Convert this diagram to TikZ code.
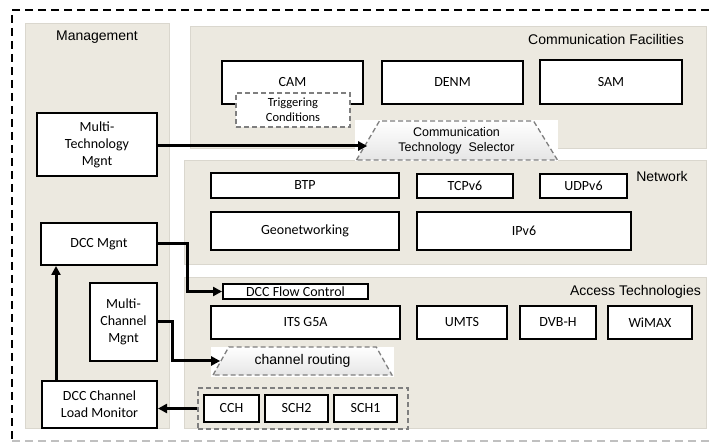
\documentclass[tikz,border=0pt]{standalone}
\usepackage{fontspec}
\setmainfont{Carlito}
\newfontfamily\arialf{Liberation Sans}
\usetikzlibrary{arrows.meta,shapes.geometric}
\definecolor{panelc}{HTML}{ECE9E0}
\definecolor{panelb}{HTML}{DAD7CE}
\definecolor{dgray}{HTML}{7F7F7F}
\definecolor{lgray}{HTML}{C0C0C0}
\tikzset{
  panel/.style={fill=panelc, draw=panelb, line width=0.5pt, inner sep=0pt},
  box/.style={draw, line width=2pt, fill=white, align=center, inner sep=0pt,
    font=\fontsize{14}{17}\selectfont},
  dbox/.style={draw=dgray, line width=1.6pt, dash pattern=on 5pt off 3pt, inner sep=0pt},
  plabel/.style={font=\arialf\fontsize{14}{17}\selectfont, inner sep=0pt},
  trap/.style={shape=trapezium, draw=dgray, line width=1.3pt, dash pattern=on 5pt off 3pt,
    top color=white, bottom color=black!10, trapezium stretches=true, inner sep=0pt,
    align=center},
  arr/.style={line width=3pt, -{Triangle[length=9pt,width=9pt]}},
}
\begin{document}
\begin{tikzpicture}[x=1pt,y=-1pt]
\useasboundingbox (0,0) rectangle (709,443);
% outer dashed frame
\draw[line width=1.8pt, dash pattern=on 8pt off 5pt] (709,10) -- (12,10) -- (12,441);
\draw[lgray, line width=1.8pt, dash pattern=on 8pt off 5pt] (12,441) -- (709,441);
% panels
\node[panel, minimum width=144pt, minimum height=405pt] (pman) at (97,225.5) {};
\node[panel, minimum width=516pt, minimum height=122pt] (pcf) at (448,87) {};
\node[panel, minimum width=522pt, minimum height=104pt] (pnet) at (445,212) {};
\node[panel, minimum width=522pt, minimum height=151pt] (pacc) at (445,352.5) {};
% panel labels
\node[plabel] (lman) at (97,37) {Management};
\node[plabel, anchor=east] (lcf) at (684,40) {Communication Facilities};
\node[plabel] (lnet) at (662,176) {Network};
\node[plabel, anchor=east] (lacc) at (701,292) {Access Technologies};
% communication facilities
\node[box, minimum width=141pt, minimum height=43pt] (cam) at (292.5,82.5) {CAM};
\node[box, minimum width=141pt, minimum height=43pt] (denm) at (452.5,82.5) {DENM};
\node[box, minimum width=142pt, minimum height=44pt] (sam) at (611,82) {SAM};
\node[dbox, fill=white, minimum width=114pt, minimum height=34pt, align=center,
  font=\fontsize{12.5}{15}\selectfont] (trig) at (293,110) {Triggering\\Conditions};
% white backgrounds of selectors
\node[fill=white, inner sep=0pt, minimum width=203pt, minimum height=41pt] (bgcts) at (456.5,140.5) {};
\node[fill=white, inner sep=0pt, minimum width=183pt, minimum height=30pt] (bgcr) at (302.5,361.5) {};
\node[trap, trapezium left angle=57, trapezium right angle=56, minimum width=201pt,
  minimum height=39pt, font=\arialf\fontsize{12.5}{15}\selectfont] (cts) at (456.5,140.5)
  {Communication\\Technology\ \ Selector};
\node[trap, trapezium left angle=52, trapezium right angle=52, minimum width=179pt,
  minimum height=28pt, font=\arialf\fontsize{14}{17}\selectfont] (cr) at (302.5,361)
  {channel routing};
% management boxes
\node[box, minimum width=120pt, minimum height=63pt] (mtm) at (97,144.5) {Multi-\\Technology\\Mgnt};
\node[box, minimum width=116pt, minimum height=42pt] (dccm) at (99,244) {DCC Mgnt};
\node[box, minimum width=67pt, minimum height=78pt] (mcm) at (123.5,322) {Multi-\\Channel\\Mgnt};
\node[box, minimum width=115pt, minimum height=47pt] (lm) at (99.5,404.5) {DCC Channel\\Load Monitor};
% network
\node[box, minimum width=188pt, minimum height=25pt] (btp) at (305,185.5) {BTP};
\node[box, minimum width=96pt, minimum height=24pt] (tcp) at (465,186) {TCPv6};
\node[box, minimum width=87pt, minimum height=24pt] (udp) at (583.5,186) {UDPv6};
\node[box, minimum width=188pt, minimum height=38pt] (geo) at (305,231) {Geonetworking};
\node[box, minimum width=214pt, minimum height=38pt] (ipv6) at (524,231) {IPv6};
% access technologies
\node[box, minimum width=145pt, minimum height=15pt] (dfc) at (295.5,291.5) {DCC Flow Control};
\node[box, minimum width=189pt, minimum height=33pt] (its) at (305.5,322.5) {ITS G5A};
\node[box, minimum width=90pt, minimum height=33pt] (umts) at (462,322.5) {UMTS};
\node[box, minimum width=76pt, minimum height=33pt] (dvb) at (558,322.5) {DVB-H};
\node[box, minimum width=84pt, minimum height=33pt] (wimax) at (650,322.5) {WiMAX};
\node[dbox, minimum width=210pt, minimum height=41pt] (grp) at (303,408.5) {};
\node[box, minimum width=55pt, minimum height=27pt] (cch) at (231.5,408.5) {CCH};
\node[box, minimum width=63pt, minimum height=27pt] (sch2) at (296.5,408.5) {SCH2};
\node[box, minimum width=63pt, minimum height=27pt] (sch1) at (365.5,408.5) {SCH1};
% connectors
\draw[arr] ([yshift=-1.5pt]mtm.east) -- ([yshift=-1.5pt]mtm.east -| cts.west);
\draw[arr] (dccm.east) -- ++(29,0) |- (dfc.west);
\draw[arr] (mcm.east) -- ++(14,0) |- (cr.west);
\draw[arr] (grp.west) -- (lm.east |- grp.west);
\draw[arr] ([xshift=15pt]lm.north west) -- ([xshift=15pt]lm.north west |- dccm.south);
\end{tikzpicture}
\end{document}
